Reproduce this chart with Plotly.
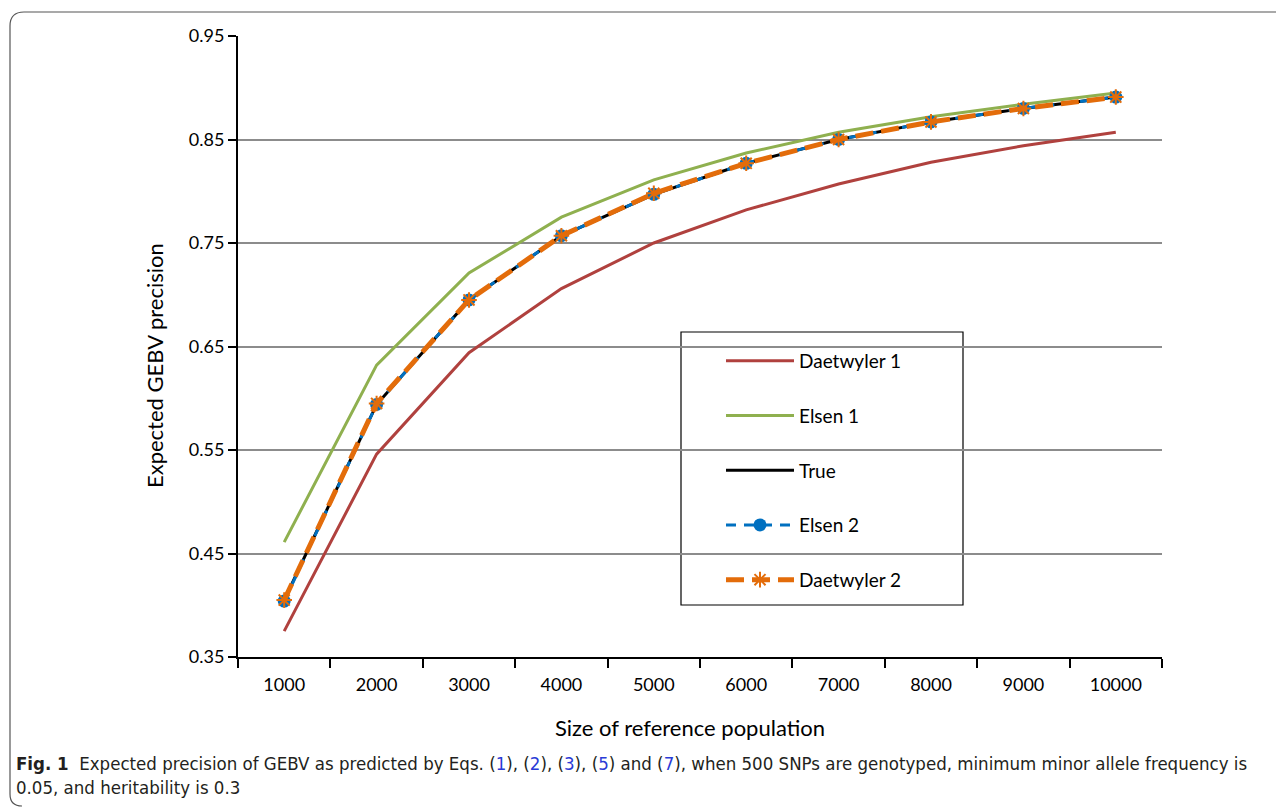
import plotly.graph_objects as go

ref_size = ["1000", "2000", "3000", "4000", "5000", "6000", "7000", "8000", "9000", "10000"]

daetwyler_1 = [0.375, 0.546, 0.644, 0.706, 0.750, 0.782, 0.807, 0.828, 0.844, 0.857]
elsen_1 = [0.461, 0.632, 0.721, 0.775, 0.811, 0.837, 0.857, 0.872, 0.884, 0.895]
true_prec = [0.405, 0.594, 0.695, 0.757, 0.797, 0.827, 0.850, 0.867, 0.880, 0.891]
elsen_2 = [0.404, 0.594, 0.695, 0.757, 0.797, 0.827, 0.850, 0.867, 0.880, 0.891]
daetwyler_2 = [0.405, 0.595, 0.695, 0.757, 0.798, 0.827, 0.850, 0.867, 0.880, 0.891]

# page body has an 8px margin, so everything is laid out 8px up/left
OFF = 8
W, H = 1284 - OFF, 808 - OFF
# plot area in screen pixels
L, R, T, B = 238, 1162, 36, 657


def px(x):
    return (x - L) / (R - L)


def py(y):
    return (B - y) / (B - T)


FONT = "Lato, Noto Sans, sans-serif"

fig = go.Figure()

fig.add_trace(go.Scatter(
    x=ref_size, y=daetwyler_1, mode="lines", name="Daetwyler 1",
    line=dict(color="#b0413e", width=3), legendgroup="a",
))
fig.add_trace(go.Scatter(
    x=ref_size, y=elsen_1, mode="lines", name="Elsen 1",
    line=dict(color="#8fb04f", width=3), legendgroup="b",
))
fig.add_trace(go.Scatter(
    x=ref_size, y=true_prec, mode="lines", name="True",
    line=dict(color="#000000", width=3), legendgroup="c",
))
fig.add_trace(go.Scatter(
    x=ref_size, y=elsen_2, mode="lines+markers", name="Elsen 2",
    line=dict(color="#0070c0", width=3, dash="10px,8px"),
    marker=dict(symbol="circle", size=13, color="#0070c0"),
    legendgroup="d",
))
fig.add_trace(go.Scatter(
    x=ref_size, y=daetwyler_2, mode="lines+markers", name="Daetwyler 2",
    line=dict(color="#e36c0a", width=5, dash="18px,8px"),
    marker=dict(symbol="asterisk-open", size=13, color="#e36c0a",
                line=dict(color="#e36c0a", width=2)),
    legendgroup="e",
))

# outer rounded frame and legend border
fig.add_shape(
    type="path", xref="paper", yref="paper",
    path=(f"M {px(1300)} {py(12)} L {px(24)} {py(12)} "
          f"Q {px(10)} {py(12)} {px(10)} {py(26)} "
          f"L {px(10)} {py(794)} Q {px(10)} {py(806)} {px(22)} {py(806)}"),
    line=dict(color="#555555", width=1.2),
)
fig.add_shape(
    type="rect", xref="paper", yref="paper",
    x0=px(681), x1=px(963), y0=py(605), y1=py(332),
    line=dict(color="#000000", width=1.2), fillcolor="white", layer="below",
)

# axis titles
fig.add_annotation(
    xref="paper", yref="paper", x=px(690), y=py(727), showarrow=False,
    xanchor="center", yanchor="middle",
    text="Size of reference population", font=dict(size=22),
)
fig.add_annotation(
    xref="paper", yref="paper", x=px(155), y=py(366), showarrow=False,
    xanchor="center", yanchor="middle", textangle=-90,
    text="Expected GEBV precision", font=dict(size=22),
)

# caption
fig.add_annotation(
    xref="paper", yref="paper", x=px(14), y=py(751), xanchor="left", yanchor="top",
    align="left", showarrow=False,
    font=dict(family="DejaVu Sans Condensed, Liberation Sans Narrow, sans-serif",
              size=18.5, color="#231f20"),
    text=("<b>Fig. 1</b>  Expected precision of GEBV as predicted by Eqs. "
          "(<span style='color:#2a3bd6'>1</span>), (<span style='color:#2a3bd6'>2</span>), "
          "(<span style='color:#2a3bd6'>3</span>), (<span style='color:#2a3bd6'>5</span>) and "
          "(<span style='color:#2a3bd6'>7</span>), when 500 SNPs are genotyped, minimum minor "
          "allele frequency is<br>0.05, and heritability is 0.3"),
)

fig.update_layout(
    width=W, height=H,
    paper_bgcolor="white", plot_bgcolor="rgba(0,0,0,0)",
    margin=dict(l=L - OFF, r=W - (R - OFF), t=T - OFF, b=H - (B - OFF)),
    font=dict(family=FONT, size=18, color="#000000"),
    showlegend=True,
    legend=dict(
        x=px(721), y=py(342), xanchor="left", yanchor="top",
        bgcolor="rgba(0,0,0,0)", borderwidth=0,
        tracegroupgap=27, itemwidth=68,
        font=dict(family=FONT, size=19, color="#000000"),
    ),
)

fig.update_xaxes(
    type="category", categoryorder="array", categoryarray=ref_size,
    range=[-0.5, len(ref_size) - 0.5], autorange=False,
    tickson="boundaries", ticks="outside", ticklen=9, tickwidth=2, tickcolor="#000000",
    showline=True, linecolor="#000000", linewidth=2, showgrid=False,
    tickfont=dict(size=18), ticklabelstandoff=10,
)
fig.update_yaxes(
    range=[0.35, 0.95], dtick=0.1, tick0=0.35, tickformat=".2f",
    ticks="outside", ticklen=8, tickwidth=2, tickcolor="#000000",
    showline=True, linecolor="#000000", linewidth=2,
    showgrid=True, gridcolor="#8c8c8c", gridwidth=1.5, zeroline=False,
    tickfont=dict(size=18),
)

fig.write_html("out.html")
